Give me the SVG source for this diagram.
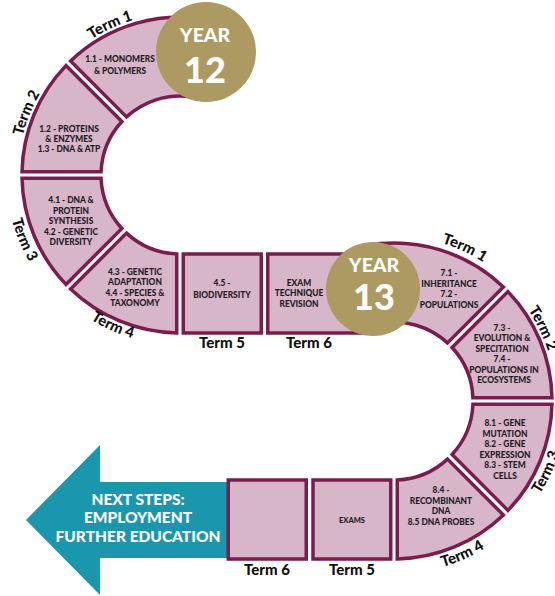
<svg xmlns="http://www.w3.org/2000/svg" width="555" height="596" viewBox="0 0 555 596">
<style>
.seg{fill:#d6b6c8;stroke:#7b1c4e;stroke-width:3.5;stroke-linejoin:miter}
.t{font-family:Lato,"Liberation Sans",sans-serif;font-weight:900;font-size:8.4px;fill:#231a1f;text-anchor:middle}
.term{font-family:Lato,"Liberation Sans",sans-serif;font-weight:900;font-size:15px;fill:#111;text-anchor:middle}
.badge{fill:#ad9a62}
.yt{font-family:Lato,"Liberation Sans",sans-serif;font-weight:900;fill:#fff;text-anchor:middle}
.arrow{fill:#1b97ad}
.at{font-family:Lato,"Liberation Sans",sans-serif;font-weight:900;font-size:15.5px;fill:#fff;text-anchor:middle}
</style>
<defs>
<path id="p12t1" d="M 47.3 82.1 A 162 162 0 0 1 194.1 13.6"/>
<path id="p12t2" d="M 19.6 197.5 A 162 162 0 0 1 80.3 47.3"/>
<path id="p12t3" d="M 7.5 152.3 A 174 174 0 0 0 74.1 313.0"/>
<path id="p12t4" d="M 42.5 274.9 A 170 170 0 0 0 197.8 344.1"/>
<path id="p13t1" d="M 379.0 236.7 A 165 165 0 0 1 528.8 305.9"/>
<path id="p13t2" d="M 484.6 266.7 A 162 162 0 0 1 555.6 412.3"/>
<path id="p13t3" d="M 493.2 542.7 A 173 173 0 0 0 566.3 385.9"/>
<path id="p13t4" d="M 375.9 573.0 A 173 173 0 0 0 534.0 502.7"/>
</defs>

<g id="next-steps">
<polygon class="arrow" points="26,520 100,445 100,482 227,482 227,558 100,558 100,595"/>
<text class="at"><tspan x="138" y="505">NEXT STEPS:</tspan><tspan x="138" y="523.3">EMPLOYMENT</tspan><tspan x="138" y="541.7">FURTHER EDUCATION</tspan></text>
</g>

<g id="y12-term1">
<path class="seg" d="M 70.6 61.0 A 158 158 0 0 1 212.8 20.5 L 189.63 96.59 A 79 79 0 0 0 126.5 116.9 Z"/>
<text class="t"><tspan x="120" y="62">1.1 - MONOMERS</tspan><tspan x="120" y="73.5">&amp; POLYMERS</tspan></text>
<text class="term"><textPath href="#p12t1" startOffset="50%">Term 1</textPath></text>
</g>

<g id="y12-term2">
<path class="seg" d="M 22.03 171.75 A 158 158 0 0 1 66.0 65.6 L 121.9 121.5 A 79 79 0 0 0 101.07 171.75 Z"/>
<text class="t"><tspan x="69" y="131.5">1.2 - PROTEINS</tspan><tspan x="69" y="141.7">&amp; ENZYMES</tspan><tspan x="69" y="151.7">1.3 - DNA &amp; ATP</tspan></text>
<text class="term"><textPath href="#p12t2" startOffset="50%">Term 2</textPath></text>
</g>

<g id="y12-term3">
<path class="seg" d="M 66.0 284.4 A 158 158 0 0 1 22.03 178.25 L 101.07 178.25 A 79 79 0 0 0 121.9 228.5 Z"/>
<text class="t"><tspan x="71" y="203">4.1 - DNA &amp;</tspan><tspan x="71" y="213.5">PROTEIN</tspan><tspan x="71" y="224">SYNTHESIS</tspan><tspan x="71" y="234.5">4.2 - GENETIC</tspan><tspan x="71" y="245">DIVERSITY</tspan></text>
<text class="term"><textPath href="#p12t3" startOffset="50%">Term 3</textPath></text>
</g>

<g id="y12-term4">
<path class="seg" d="M 176.75 332.97 A 158 158 0 0 1 70.6 289.0 L 126.5 233.1 A 79 79 0 0 0 176.75 253.93 Z"/>
<text class="t"><tspan x="135" y="274.5">4.3 - GENETIC</tspan><tspan x="135" y="285">ADAPTATION</tspan><tspan x="135" y="295.5">4.4 - SPECIES &amp;</tspan><tspan x="135" y="306">TAXONOMY</tspan></text>
<text class="term"><textPath href="#p12t4" startOffset="50%">Term 4</textPath></text>
</g>

<g id="y12-term5">
<rect class="seg" x="183.25" y="254" width="78" height="79"/>
<text class="t"><tspan x="222" y="286">4.5 -</tspan><tspan x="222" y="298">BIODIVERSITY</tspan></text>
<text class="term" x="222" y="347.5">Term 5</text>
</g>

<g id="y12-term6">
<rect class="seg" x="267.75" y="254" width="102.25" height="79"/>
<text class="t"><tspan x="299" y="285.5">EXAM</tspan><tspan x="299" y="296">TECHNIQUE</tspan><tspan x="299" y="306.5">REVISION</tspan></text>
<text class="term" x="309" y="347.5">Term 6</text>
</g>

<g id="y13-term1">
<path class="seg" d="M 366.6 245.4 A 158 158 0 0 1 503.4 287.0 L 447.5 342.9 A 79 79 0 0 0 380.3 323.2 Z"/>
<text class="t"><tspan x="449" y="276">7.1 -</tspan><tspan x="449" y="286.5">INHERITANCE</tspan><tspan x="449" y="297">7.2 -</tspan><tspan x="449" y="307.5">POPULATIONS</tspan></text>
<text class="term"><textPath href="#p13t1" startOffset="50%">Term 1</textPath></text>
</g>

<g id="y13-term2">
<path class="seg" d="M 508.0 291.6 A 158 158 0 0 1 551.97 397.75 L 472.93 397.75 A 79 79 0 0 0 452.1 347.5 Z"/>
<text class="t"><tspan x="502" y="330.5">7.3 -</tspan><tspan x="502" y="341">EVOLUTION &amp;</tspan><tspan x="502" y="351.5">SPECITATION</tspan><tspan x="502" y="362">7.4 -</tspan><tspan x="504" y="372.5">POPULATIONS IN</tspan><tspan x="504" y="383">ECOSYSTEMS</tspan></text>
<text class="term"><textPath href="#p13t2" startOffset="50%">Term 2</textPath></text>
</g>

<g id="y13-term3">
<path class="seg" d="M 551.97 404.25 A 158 158 0 0 1 508.0 510.4 L 452.1 454.5 A 79 79 0 0 0 472.93 404.25 Z"/>
<text class="t"><tspan x="505" y="426">8.1 - GENE</tspan><tspan x="505" y="436.5">MUTATION</tspan><tspan x="505" y="447">8.2 - GENE</tspan><tspan x="505" y="457.5">EXPRESSION</tspan><tspan x="505" y="468">8.3 - STEM</tspan><tspan x="505" y="478.5">CELLS</tspan></text>
<text class="term"><textPath href="#p13t3" startOffset="50%">Term 3</textPath></text>
</g>

<g id="y13-term4">
<path class="seg" d="M 503.4 515.0 A 158 158 0 0 1 397.25 558.97 L 397.25 479.93 A 79 79 0 0 0 447.5 459.1 Z"/>
<text class="t"><tspan x="441" y="492.5">8.4 -</tspan><tspan x="441" y="503.5">RECOMBINANT</tspan><tspan x="441" y="514">DNA</tspan><tspan x="441" y="525">8.5 DNA PROBES</tspan></text>
<text class="term"><textPath href="#p13t4" startOffset="50%">Term 4</textPath></text>
</g>

<g id="y13-term5">
<rect class="seg" x="313" y="480" width="77.75" height="79"/>
<text class="t" x="352" y="522.5" style="font-size:7.5px">EXAMS</text>
<text class="term" x="352" y="575">Term 5</text>
</g>

<g id="y13-term6">
<rect class="seg" x="228.25" y="480" width="78" height="79"/>
<text class="term" x="267" y="575">Term 6</text>
</g>

<g id="year12">
<circle class="badge" cx="206" cy="52" r="50"/>
<text class="yt" x="205" y="41.7" font-size="19.5">YEAR</text>
<text class="yt" x="205" y="83.3" font-size="36">12</text>
</g>

<g id="year13">
<circle class="badge" cx="373" cy="289" r="47"/>
<text class="yt" x="374" y="272" font-size="19.5">YEAR</text>
<text class="yt" x="374" y="310" font-size="36">13</text>
</g>

<g id="connectors"></g>
</svg>
